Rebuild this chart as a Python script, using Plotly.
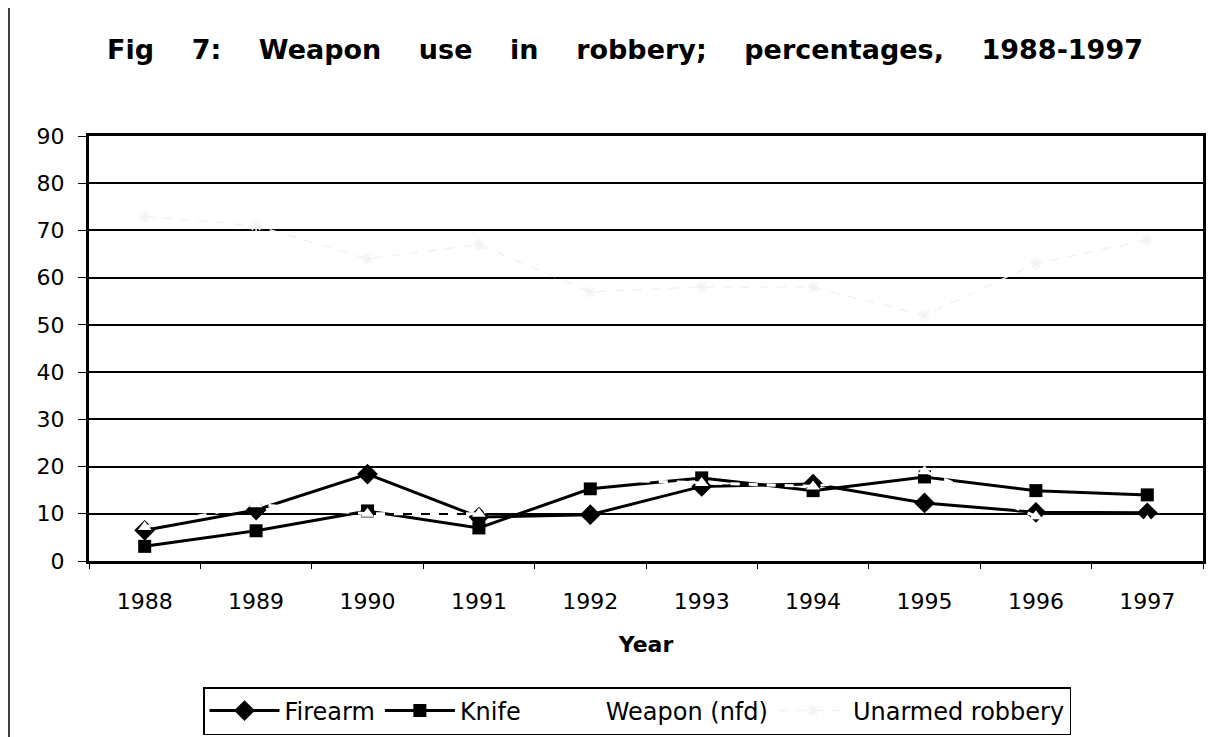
import plotly.graph_objects as go

years = ["1988", "1989", "1990", "1991", "1992", "1993", "1994", "1995", "1996", "1997"]
firearm = [6.5, 10.8, 18.4, 9.3, 9.8, 15.8, 16.3, 12.3, 10.3, 10.2]
knife = [3.1, 6.4, 10.6, 7.0, 15.3, 17.6, 14.9, 17.8, 14.9, 14.0]
weapon_nfd = [7.2, 12.0, 10.0, 10.0, 17.3, 16.5, 15.8, 19.0, 9.5, 8.5]
unarmed = [73, 71, 64, 67, 57, 58, 58, 52, 63, 68]

FONT = "DejaVu Sans, Verdana, sans-serif"

fig = go.Figure()
fig.add_trace(go.Scatter(x=years, y=firearm, name="Firearm", mode="lines+markers",
                         line=dict(color="black", width=3),
                         marker=dict(symbol="diamond", size=16, color="black")))
fig.add_trace(go.Scatter(x=years, y=knife, name="Knife", mode="lines+markers",
                         line=dict(color="black", width=3),
                         marker=dict(symbol="square", size=13, color="black")))
fig.add_trace(go.Scatter(x=years, y=weapon_nfd, name="Weapon (nfd)", mode="lines+markers",
                         line=dict(color="white", width=3, dash="dash"),
                         marker=dict(symbol="triangle-up", size=12, color="white")))
fig.add_trace(go.Scatter(x=years, y=unarmed, name="Unarmed robbery", mode="lines+markers",
                         line=dict(color="#f2f2f2", width=1.5, dash="dash"),
                         marker=dict(symbol="asterisk-open", size=10,
                                     line=dict(color="#f2f2f2", width=1.5))))

# page is drawn with an 8px body margin, so the figure is laid out 8px up/left
OFF = 8
W, H = 1227 - OFF, 737 - OFF
l, t = 89 - OFF, 136 - OFF
r = W - (1203 - OFF)
b = H - (561 - OFF)
pw, ph = W - l - r, H - t - b

def px_x(v):
    return (v - OFF - l) / pw

def px_y(v):
    return (H - b - (v - OFF)) / ph

sp = "\u00a0\u00a0\u00a0 "
title_txt = sp.join(["Fig", "7:", "Weapon", "use", "in", "robbery;", "percentages,", "1988-1997"])

fig.update_layout(
    width=W, height=H,
    margin=dict(l=l, r=r, t=t, b=b, autoexpand=False),
    paper_bgcolor="white", plot_bgcolor="white",
    font=dict(family=FONT, color="black", size=20),
    title=dict(text="<b>" + title_txt + "</b>",
               x=(625 - OFF) / W, xanchor="center", y=1 - (50 - OFF) / H, yanchor="middle",
               font=dict(family=FONT, size=27, color="black")),
    xaxis=dict(type="category", range=[-0.5, 9.5], showgrid=False,
               showline=True, linecolor="black", linewidth=3, mirror=True,
               ticks="outside", ticklen=5, tickcolor="black", tickson="boundaries",
               tickfont=dict(family=FONT, size=22),
               ticklabelstandoff=19, automargin=False,
               title=dict(text="<b>Year</b>", font=dict(family=FONT, size=22), standoff=24)),
    yaxis=dict(range=[0, 90], dtick=10, showgrid=True, gridcolor="black", gridwidth=2,
               showline=True, linecolor="black", linewidth=3, mirror=True,
               ticks="outside", ticklen=8, tickcolor="black",
               tickfont=dict(family=FONT, size=22), ticklabelstandoff=9,
               zeroline=False, automargin=False),
    showlegend=True,
    legend=dict(orientation="h", x=px_x(203), xanchor="left", y=px_y(687), yanchor="top",
                bordercolor="black", borderwidth=1.5, bgcolor="white",
                font=dict(family=FONT, size=24), itemwidth=70,
                tracegroupgap=0),
    shapes=[dict(type="rect", xref="paper", yref="paper",
                 x0=px_x(9), x1=px_x(1222), y0=px_y(780), y1=px_y(-30),
                 line=dict(color="black", width=1.5), fillcolor="rgba(0,0,0,0)", layer="below")],
)

fig.write_html("out.html")
